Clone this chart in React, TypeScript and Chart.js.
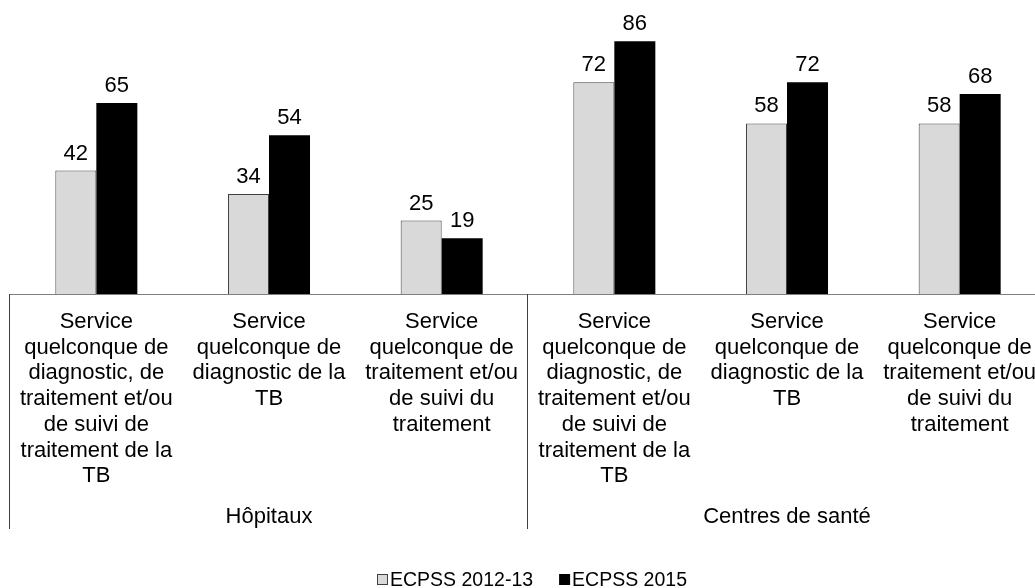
import React, { useEffect, useRef } from "react";
import { Chart, registerables } from "chart.js";

Chart.register(...registerables);

// Category labels, one array of lines per bar group
const categoryLines: string[][] = [
  ["Service", "quelconque de", "diagnostic, de", "traitement et/ou", "de suivi de", "traitement de la", "TB"],
  ["Service", "quelconque de", "diagnostic de la", "TB"],
  ["Service", "quelconque de", "traitement et/ou", "de suivi du", "traitement"],
  ["Service", "quelconque de", "diagnostic, de", "traitement et/ou", "de suivi de", "traitement de la", "TB"],
  ["Service", "quelconque de", "diagnostic de la", "TB"],
  ["Service", "quelconque de", "traitement et/ou", "de suivi du", "traitement"],
];

// Facility types, each covering three consecutive categories
const groupNames = ["Hôpitaux", "Centres de santé"];
const groupSize = 3;

const seriesNames = ["ECPSS 2012-13", "ECPSS 2015"];
const values2012 = [42, 34, 25, 72, 58, 58];
const values2015 = [65, 54, 19, 86, 72, 68];

const FONT = '"Liberation Sans", Arial, Helvetica, sans-serif';
const GRAY_FILL = "#d9d9d9";
const GRAY_BORDER = "#404040";

const annotate = {
  id: "annotate",
  afterDatasetsDraw(chart: any) {
    const ctx = chart.ctx as CanvasRenderingContext2D;
    const area = chart.chartArea;
    const xScale = chart.scales.x;
    const bottom = area.bottom;

    ctx.save();

    // value labels above each bar
    ctx.fillStyle = "#000";
    ctx.font = `22px ${FONT}`;
    ctx.textAlign = "center";
    ctx.textBaseline = "alphabetic";
    chart.data.datasets.forEach((ds: any, di: number) => {
      const meta = chart.getDatasetMeta(di);
      meta.data.forEach((bar: any, i: number) => {
        ctx.fillText(String(ds.data[i]), bar.x, bar.y - 11);
      });
    });

    // horizontal axis line
    ctx.strokeStyle = "#7f7f7f";
    ctx.lineWidth = 1;
    ctx.beginPath();
    ctx.moveTo(area.left, Math.round(bottom) + 0.5);
    ctx.lineTo(area.right, Math.round(bottom) + 0.5);
    ctx.stroke();

    // separators between facility groups
    const colW = (area.right - area.left) / categoryLines.length;
    ctx.strokeStyle = "#404040";
    ctx.beginPath();
    for (let g = 0; g <= groupNames.length; g++) {
      const x = Math.round(area.left + g * groupSize * colW) - 0.5;
      ctx.moveTo(x, bottom);
      ctx.lineTo(x, 529);
    }
    ctx.stroke();

    // multi-line category labels
    ctx.fillStyle = "#000";
    ctx.font = `22px ${FONT}`;
    const lineH = 25.7;
    categoryLines.forEach((lines, i) => {
      const cx = xScale.getPixelForValue(i);
      lines.forEach((ln, k) => {
        ctx.fillText(ln, cx, 328 + k * lineH);
      });
    });

    // group labels
    groupNames.forEach((name, g) => {
      const x0 = xScale.getPixelForValue(g * groupSize);
      const x1 = xScale.getPixelForValue(g * groupSize + groupSize - 1);
      ctx.fillText(name, (x0 + x1) / 2, 523);
    });

    // legend
    ctx.font = `19.5px ${FONT}`;
    ctx.textAlign = "left";
    const box = 10;
    const gapBox = 3;
    const gapItems = 26;
    const widths = seriesNames.map((s) => box + gapBox + ctx.measureText(s).width);
    const total = widths[0] + gapItems + widths[1];
    let lx = 532 - total / 2;
    const baseY = 586;
    seriesNames.forEach((s, i) => {
      const by = baseY - 12;
      if (i === 0) {
        ctx.fillStyle = GRAY_FILL;
        ctx.fillRect(lx + 0.5, by + 0.5, box, box);
        ctx.strokeStyle = GRAY_BORDER;
        ctx.strokeRect(lx + 0.5, by + 0.5, box, box);
      } else {
        ctx.fillStyle = "#000";
        ctx.fillRect(lx, by, box + 1, box + 1);
      }
      ctx.fillStyle = "#000";
      ctx.fillText(s, lx + box + gapBox, baseY);
      lx += widths[i] + gapItems;
    });

    ctx.restore();
  },
};

export default function App() {
  const canvasRef = useRef<HTMLCanvasElement | null>(null);

  useEffect(() => {
    const canvas = canvasRef.current;
    if (!canvas) return;
    const chart = new Chart(canvas, {
      type: "bar",
      data: {
        labels: categoryLines.map((l) => l.join(" ")),
        datasets: [
          {
            label: seriesNames[0],
            data: values2012,
            backgroundColor: GRAY_FILL,
            borderColor: GRAY_BORDER,
            borderWidth: 1,
            categoryPercentage: 0.475,
            barPercentage: 1,
          },
          {
            label: seriesNames[1],
            data: values2015,
            backgroundColor: "#000000",
            borderColor: "#000000",
            borderWidth: 0,
            categoryPercentage: 0.475,
            barPercentage: 1,
          },
        ],
      },
      options: {
        responsive: false,
        animation: false,
        devicePixelRatio: 1,
        layout: { padding: { left: 10, right: 4, top: 0, bottom: 294 } },
        plugins: { legend: { display: false }, tooltip: { enabled: false } },
        scales: {
          x: { display: false },
          y: { display: false, min: 0, max: 100 },
        },
      },
      plugins: [annotate],
    });
    return () => chart.destroy();
  }, []);

  return (
    <div
      style={{
        position: "absolute",
        left: 0,
        top: 0,
        width: 1035,
        height: 588,
        overflow: "hidden",
        background: "#fff",
      }}
    >
      <canvas ref={canvasRef} width={1050} height={588} style={{ display: "block" }} />
    </div>
  );
}
